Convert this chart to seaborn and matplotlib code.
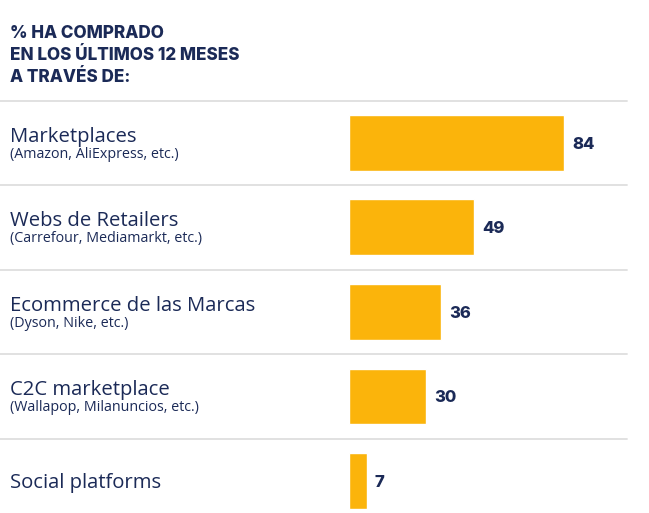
import matplotlib
matplotlib.use("Agg")
import matplotlib.pyplot as plt
import seaborn as sns
import pandas as pd

categories = ["Marketplaces", "Webs de Retailers", "Ecommerce de las Marcas",
              "C2C marketplace", "Social platforms"]
subtitles = ["(Amazon, AliExpress, etc.)", "(Carrefour, Mediamarkt, etc.)",
             "(Dyson, Nike, etc.)", "(Wallapop, Milanuncios, etc.)", ""]
values = [84, 49, 36, 30, 7]
title_lines = ["% HA COMPRADO", "EN LOS ÚLTIMOS 12 MESES", "A TRAVÉS DE:"]

sns.set_theme(style="white")
plt.rcParams["font.family"] = ["Open Sans", "DejaVu Sans"]
BOLD = ["Inter", "DejaVu Sans"]

NAVY = "#1b2a57"
BAR = "#fbb40b"
W, H = 649, 513
fig = plt.figure(figsize=(W / 100, H / 100), dpi=100)
ax = fig.add_axes([0, 0, 627 / W, (H - 100.5) / H])

df = pd.DataFrame({"cat": categories, "val": values})
sns.barplot(data=df, y="cat", x="val", orient="h", color=BAR, width=0.66,
            saturation=1, ax=ax)

ppu = 215 / 84.0
ax.set_xlim(-349 / ppu, (627 - 349) / ppu)
row = 84.5
ax.set_ylim((513 - 143) / row, -0.5)
ax.axis("off")

for i in range(len(categories)):
    ax.axhline(i - 0.5, color="#dedede", lw=1.3, zorder=0, clip_on=False)

x0 = ax.get_xlim()[0] + 10 / ppu
for i, (c, s, v) in enumerate(zip(categories, subtitles, values)):
    if s:
        ax.text(x0, i - 1 / row, c, fontsize=14.6, color=NAVY, va="baseline", ha="left")
        ax.text(x0, i + 15 / row, s, fontsize=10.3, color=NAVY, va="baseline", ha="left")
    else:
        ax.text(x0, i + 7 / row, c, fontsize=14.6, color=NAVY, va="baseline", ha="left")
    ax.text(v + 8 / ppu, i + 6 / row, str(v), fontsize=12, fontweight="heavy",
            family=BOLD, color=NAVY, va="baseline", ha="left")

for j, t in enumerate(title_lines):
    fig.text(10 / W, 1 - (38.5 + 21.7 * j) / H, t, fontsize=12.3, fontweight="heavy",
             family=BOLD, color=NAVY, va="baseline", ha="left")

fig.savefig("out.png", dpi=100)
